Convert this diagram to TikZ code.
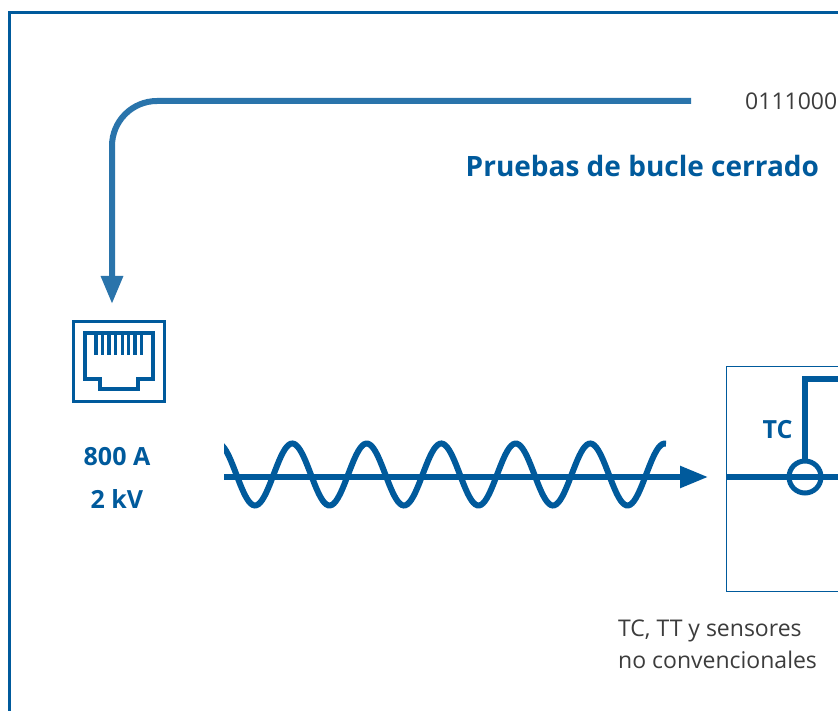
\documentclass[tikz,border=0pt]{standalone}
\usepackage{fontspec}
\setmainfont{Open Sans}
\usetikzlibrary{arrows.meta}
\definecolor{sblue}{HTML}{005A9C}
\definecolor{lblue}{HTML}{2A74AB}
\definecolor{tgray}{HTML}{3C3C3C}
\tikzset{
  x=1pt,y=-1pt,
  frameline/.style={draw=sblue,line width=3pt},
  boxline/.style={draw=sblue,line width=1pt},
  thick line/.style={draw=sblue,line width=5.5pt},
  loopline/.style={draw=lblue,line width=6pt,rounded corners=45pt,-{Triangle[length=28pt,width=21pt,fill=lblue]}},
  flowline/.style={draw=sblue,line width=5.5pt,-{Triangle[length=28pt,width=21pt]}},
  heading/.style={font=\fontsize{28}{32}\selectfont\bfseries,text=sblue,inner sep=0pt},
  value/.style={font=\fontsize{25}{28}\selectfont\bfseries,text=sblue,inner sep=0pt},
  plain/.style={font=\fontsize{23}{26}\selectfont,text=tgray,inner sep=0pt},
}
\begin{document}
\begin{tikzpicture}
\clip (0,0) rectangle (838,711);
\useasboundingbox (0,0) rectangle (838,711);
\fill[white] (0,0) rectangle (838,711);
% outer frame
\draw[frameline] (900,12.5) -- (9.5,12.5) -- (9.5,800);
% closed loop
\coordinate (loopstart) at (691,101);
\coordinate (loopcorner) at (112,101);
\node[inner sep=0pt,minimum width=91pt,minimum height=79pt,draw=sblue,line width=3pt] (rj) at (119,361.5) {};
\coordinate (looptip) at (112,304);
\draw[loopline] (loopstart) -- (loopcorner) -- (looptip);
\node[plain,anchor=base west] (bits) at (745,110) {0111000};
\node[heading,anchor=base west] (title) at (465.5,177) {Pruebas de bucle cerrado};
% connector icon
\draw[sblue,line width=3.5pt,line join=miter] (85,333) -- (153,333) -- (153,379) -- (138,379) -- (138,389) -- (100,389) -- (100,379) -- (85,379) -- cycle;
\foreach \px in {96,102.7,109,115.7,122.3,128.7,135,141.7}
  \draw[sblue,line width=3.3pt] (\px,333) -- (\px,355);
% ratings
\node[value,anchor=base] (amps) at (117,465) {800 A};
\node[value,anchor=base] (volts) at (117,508) {2 kV};
% wave and flow
\begin{scope}
\clip (224,430) rectangle (668,520);
\draw[sblue,line width=6pt,smooth,samples=240,domain=215:666]
  plot (\x,{474.5+31*cos((\x-255)/74.5*360)});
\end{scope}
\coordinate (flowstart) at (224,477);
\coordinate (flowend) at (708,477);
\draw[flowline] (flowstart) -- (flowend);
% transformer box
\draw[boxline] (900,366) -- (726,366) -- (726,591) -- (900,591);
\node[value,anchor=base] (tc) at (777.5,438) {TC};
\coordinate (linestart) at (726,477);
\coordinate (lineend) at (900,477);
\draw[thick line] (linestart) -- (lineend);
\node[circle,draw=sblue,line width=5pt,minimum size=32pt,inner sep=0pt] (ct) at (805,477) {};
\coordinate (turn) at (805,379);
\coordinate (tail) at (900,379);
\draw[thick line] (ct.north) -- (turn) -- (tail);
% caption
\node[plain,anchor=base west] (cap1) at (618,636) {TC, TT y sensores};
\node[plain,anchor=base west] (cap2) at (618,668) {no convencionales};
\end{tikzpicture}
\end{document}
